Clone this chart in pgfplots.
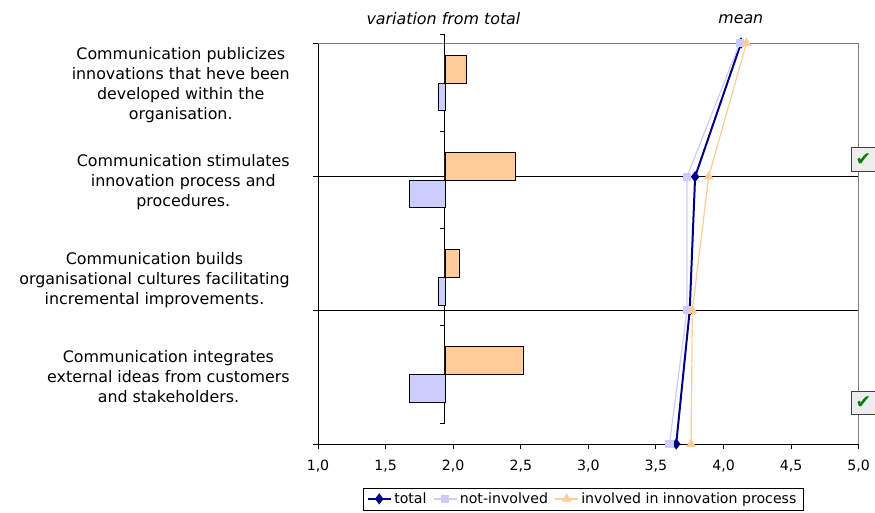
\documentclass[border=0pt]{standalone}
\usepackage{fontspec}
\setmainfont{DejaVu Sans}
\usepackage{pgfplots}
\pgfplotsset{compat=1.18}
\definecolor{navyT}{HTML}{000080}
\definecolor{lav}{HTML}{CCCCFF}
\definecolor{peach}{HTML}{FFCC99}
\definecolor{chk}{HTML}{008000}
\begin{document}
\begin{tikzpicture}
\useasboundingbox (0,0) rectangle (656.25pt,384pt);
% mean axis
\begin{axis}[
  at={(238.5pt,51pt)}, anchor=south west, scale only axis,
  width=405.5pt, height=300.75pt,
  xmin=1, xmax=5, ymin=0, ymax=3,
  axis x line*=bottom, axis y line*=left,
  axis line style={-, black, line width=0.75pt},
  xtick={1,1.5,...,5}, ytick={0,1,2,3}, yticklabels={},
  tick align=outside, major tick length=3.75pt,
  tick style={black, line width=0.75pt},
  extra y ticks={1,2}, extra y tick labels={},
  extra y tick style={grid=major, major grid style={black, line width=0.75pt}},
  xticklabel style={font=\fontsize{10.6}{12}\selectfont, yshift=-5pt,
    /pgf/number format/.cd, fixed, fixed zerofill, precision=1, use comma, assume math mode=true},
  clip=false,
  legend columns=-1,
  legend style={at={(0.49,-0.137)}, anchor=center, draw=black,
    font=\fontsize{10.6}{12.5}\selectfont, inner ysep=1.5pt,
    /tikz/every even column/.append style={column sep=3pt}},
]
\draw[gray, line width=0.75pt] (rel axis cs:0,1) -- (rel axis cs:1,1) -- (rel axis cs:1,0);
\addplot[navyT, line width=1.5pt, mark=diamond*, mark size=3pt] coordinates {(4.13,3) (3.79,2) (3.75,1) (3.65,0)};
\addlegendentry{total}
\addplot[lav, line width=0.9pt, mark=square*, mark size=2.6pt] coordinates {(4.12,3) (3.73,2) (3.73,1) (3.60,0)};
\addlegendentry{not-involved}
\addplot[peach, line width=0.9pt, mark=triangle*, mark size=3.3pt] coordinates {(4.17,3) (3.89,2) (3.77,1) (3.76,0)};
\addlegendentry{involved in innovation process}
\end{axis}
% variation axis
\begin{axis}[
  at={(333.75pt,66.75pt)}, anchor=south west, scale only axis,
  width=310.3pt, height=291.5pt,
  xmin=0, xmax=0.5893, ymin=0.5, ymax=4.5, y dir=reverse,
  axis x line=none, axis y line*=left,
  axis line style={-, black, line width=0.75pt},
  xbar, bar width=0.285, clip=false,
  ytick={1,2,3,4},
  yticklabels={{Communication publicizes\\innovations that heve been\\developed within the\\organisation.},
    {Communication stimulates\\innovation process and\\procedures.},
    {Communication builds\\organisational cultures facilitating\\incremental improvements.},
    {Communication integrates\\external ideas from customers\\and stakeholders.}},
  minor ytick={0.5,1.5,2.5,3.5,4.5},
  major tick length=0pt, minor tick length=3.75pt, tick align=outside, ytick pos=left,
  minor tick style={black, line width=0.75pt},
  yticklabel style={align=center, anchor=east, inner sep=0pt, xshift=-116.25pt, yshift=-1.8pt,
    font=\fontsize{11.9}{15}\selectfont},
]
\addplot[fill=peach, draw=black, line width=0.6pt, bar shift=-0.1425] coordinates {(0.030,1) (0.100,2) (0.020,3) (0.111,4)};
\addplot[fill=lav, draw=black, line width=0.6pt, bar shift=0.1425] coordinates {(-0.010,1) (-0.050,2) (-0.010,3) (-0.050,4)};
\end{axis}
% titles
\node[font=\itshape\fontsize{11.9}{14}\selectfont] at (332.6pt,369.75pt) {variation from total};
\node[font=\itshape\fontsize{11.9}{14}\selectfont] at (555.6pt,369.75pt) {mean};
% check boxes
\node[draw=black!75, fill=black!7, minimum width=17.8pt, minimum height=17.8pt, inner sep=0pt,
  text=chk, font=\fontsize{14}{14}\selectfont, line width=0.75pt] at (647.6pt,264.6pt) {✔};
\node[draw=black!75, fill=black!7, minimum width=17.8pt, minimum height=17.8pt, inner sep=0pt,
  text=chk, font=\fontsize{14}{14}\selectfont, line width=0.75pt] at (647.6pt,81.75pt) {✔};
\end{tikzpicture}
\end{document}
